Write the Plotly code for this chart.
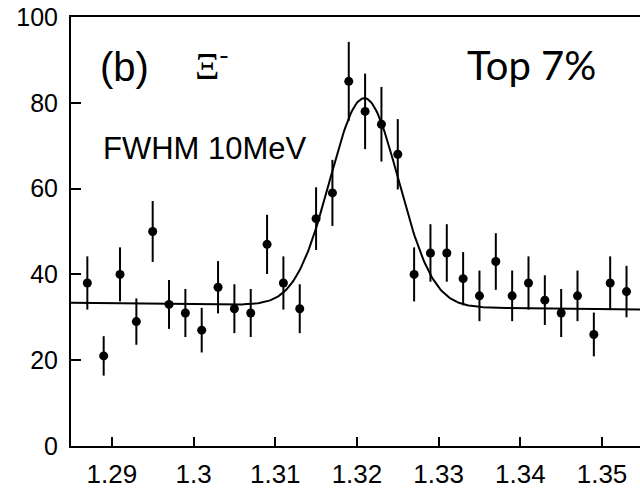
import numpy as np
import plotly.graph_objects as go

# Invariant mass bins (GeV) and counts
mass = [1.287, 1.289, 1.291, 1.293, 1.295, 1.297, 1.299, 1.301, 1.303, 1.305,
        1.307, 1.309, 1.311, 1.313, 1.315, 1.317, 1.319, 1.321, 1.323, 1.325,
        1.327, 1.329, 1.331, 1.333, 1.335, 1.337, 1.339, 1.341, 1.343, 1.345,
        1.347, 1.349, 1.351, 1.353]
counts = [38, 21, 40, 29, 50, 33, 31, 27, 37, 32,
          31, 47, 38, 32, 53, 59, 85, 78, 75, 68,
          40, 45, 45, 39, 35, 43, 35, 38, 34, 31,
          35, 26, 38, 36]
errors = [6.2, 4.6, 6.3, 5.4, 7.1, 5.7, 5.6, 5.2, 6.1, 5.7,
          5.6, 6.9, 6.2, 5.7, 7.3, 7.7, 9.2, 8.8, 8.7, 8.2,
          6.3, 6.7, 6.7, 6.2, 5.9, 6.6, 5.9, 6.2, 5.8, 5.6,
          5.9, 5.1, 6.2, 6.0]

# Fit parameters (Gaussian + linear background)
fit_mean = 1.3209
fit_sigma = 0.0042
fit_amp = 48.5
bg_at_left = 33.4
bg_at_right = 31.8

x_range = [1.285, 1.35465]
y_range = [0, 100]
x_ticks = [1.29, 1.30, 1.31, 1.32, 1.33, 1.34, 1.35]
x_ticklabels = ["1.29", "1.3", "1.31", "1.32", "1.33", "1.34", "1.35"]
y_ticks = [0, 20, 40, 60, 80, 100]

xf = np.linspace(x_range[0], x_range[1], 400)
bg = bg_at_left + (bg_at_right - bg_at_left) * (xf - x_range[0]) / (x_range[1] - x_range[0])
yf = bg + fit_amp * np.exp(-(xf - fit_mean) ** 2 / (2 * fit_sigma ** 2))

fig = go.Figure()
fig.add_trace(go.Scatter(x=xf, y=yf, mode="lines",
                         line=dict(color="black", width=2), hoverinfo="skip"))
fig.add_trace(go.Scatter(
    x=mass, y=counts, mode="markers",
    marker=dict(color="black", size=9),
    error_y=dict(type="data", array=errors, visible=True, color="black",
                 thickness=2, width=0),
))

W, H = 640, 489
L, R, T, B = 71, 0, 17, 37
pw, ph = W - L - R, H - T - B


def px(xp):
    return (xp - L) / pw


def py(yp):
    return (H - B - yp) / ph


sans = "Liberation Sans, Arial, Helvetica, sans-serif"
annots = [
    dict(text="(b)", x=px(98), y=py(68), font=dict(family=sans, size=40)),
    dict(text="Ξ<sup>-</sup>", x=px(193), y=py(64),
         font=dict(family="Liberation Serif, Times New Roman, serif", size=38)),
    dict(text="FWHM 10MeV", x=px(101), y=py(150), font=dict(family=sans, size=31)),
    dict(text="Top 7%", x=px(465), y=py(66),
         font=dict(family="Lato, Open Sans, sans-serif", size=40)),
]
for a in annots:
    a.update(xref="paper", yref="paper", xanchor="left", yanchor="middle",
             showarrow=False)
    a["font"]["color"] = "black"

fig.update_layout(
    width=W, height=H,
    margin=dict(l=L, r=R, t=T, b=B, pad=0),
    paper_bgcolor="white", plot_bgcolor="white",
    showlegend=False,
    annotations=annots,
    xaxis=dict(range=x_range, tickvals=x_ticks, ticktext=x_ticklabels,
               showgrid=False, zeroline=False, showline=True, linecolor="black",
               linewidth=2, mirror=True, ticks="inside", ticklen=9, tickwidth=2,
               tickcolor="black", ticklabelstandoff=4,
               tickfont=dict(family=sans, size=26, color="black")),
    yaxis=dict(range=y_range, tickvals=y_ticks,
               showgrid=False, zeroline=False, showline=True, linecolor="black",
               linewidth=2, ticks="inside", ticklen=10, tickwidth=2,
               tickcolor="black", ticklabelstandoff=6,
               tickfont=dict(family=sans, size=25, color="black")),
)

fig.write_html("out.html")
